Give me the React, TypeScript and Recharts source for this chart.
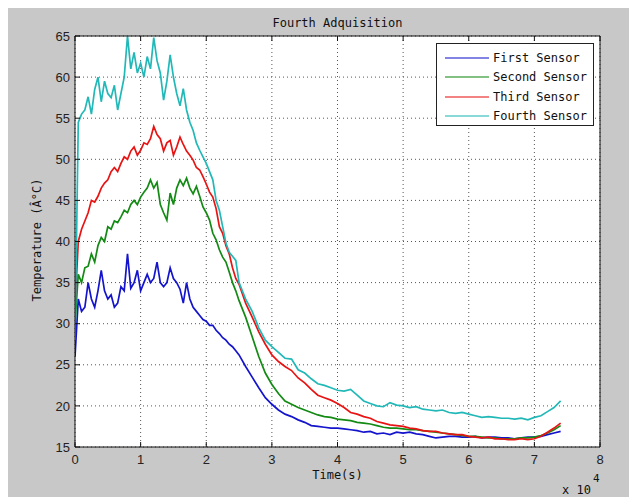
import { CartesianGrid, Legend, Line, LineChart, XAxis, YAxis } from "recharts";

// time in units of 1e4 s
const times = [
  0, 0.05, 0.1, 0.15, 0.2, 0.25, 0.3, 0.35, 0.4, 0.45, 0.5, 0.55, 0.6, 0.65, 0.7, 0.75, 0.8,
  0.85, 0.9, 0.95, 1.0, 1.05, 1.1, 1.15, 1.2, 1.25, 1.3, 1.35, 1.4, 1.45, 1.5, 1.55, 1.6,
  1.65, 1.7, 1.75, 1.8, 1.85, 1.9, 1.95, 2.0, 2.05, 2.1, 2.15, 2.2, 2.25, 2.3, 2.35, 2.4,
  2.45, 2.5, 2.6, 2.7, 2.8, 2.9, 3.0, 3.1, 3.2, 3.3, 3.4, 3.5, 3.6, 3.7, 3.8, 3.9, 4.0,
  4.1, 4.2, 4.3, 4.4, 4.5, 4.6, 4.7, 4.8, 4.9, 5.0, 5.1, 5.2, 5.3, 5.4, 5.5, 5.6, 5.7,
  5.8, 5.9, 6.0, 6.1, 6.2, 6.3, 6.4, 6.5, 6.6, 6.7, 6.8, 6.9, 7.0, 7.1, 7.2, 7.3, 7.4,
];

const firstSensor = [
  26, 33, 31.5, 32, 35, 33, 32, 34, 36.5, 34, 33, 33.5, 32, 32.5, 34.5, 34, 38.5, 34.3, 35,
  36.5, 34, 35, 36, 35, 35.5, 37.5, 35, 34.5, 35, 36.8, 35.5, 35, 34.2, 32.5, 35, 33, 32,
  31.5, 31, 30.5, 30.3, 29.8, 29.8, 29.2, 28.8, 28.3, 28, 27.5, 27.2, 26.7, 26.2,
  24.8, 23.5, 22.2, 21, 20.2, 19.5, 19, 18.7, 18.3, 18, 17.6, 17.5, 17.4, 17.3, 17.3, 17.2,
  17.1, 17.0, 16.8, 16.9, 16.6, 16.7, 16.5, 16.8, 16.7, 16.8, 16.6, 16.5, 16.3, 16.1, 16.2,
  16.3, 16.3, 16.2, 16.2, 16.3, 16.1, 16.2, 16.2, 16.1, 16.1, 16.0, 16.1, 16.2, 16.2, 16.3,
  16.5, 16.7, 16.9,
];

const secondSensor = [
  30, 36, 35, 36.8, 37, 38.5, 37.5, 39.5, 40.5, 40, 41.8, 41.5, 42.5, 42.3, 43, 43.8, 43.5,
  44.5, 45, 44.5, 45.4, 46, 46.5, 47.5, 46.5, 47.2, 44.5, 43.5, 42.6, 45.9, 44.5, 46.5, 47.5,
  46.8, 47.7, 46.5, 45.8, 46.7, 45.5, 44.2, 43.5, 42.6, 41, 40.2, 39, 38.1, 37.5, 36.3, 35,
  34, 32.8,
  30.8, 28.4, 26, 24, 22.6, 21.5, 20.6, 20.2, 19.8, 19.5, 19.2, 18.9, 18.7, 18.6, 18.4, 18.3,
  18.2, 18.0, 17.9, 17.8, 17.6, 17.4, 17.3, 17.3, 17.2, 17.1, 17.1, 17.0, 16.9, 16.8, 16.7,
  16.6, 16.5, 16.4, 16.3, 16.3, 16.2, 16.1, 16.1, 16.0, 16.0, 16.0, 16.1, 16.1, 16.2, 16.4,
  16.7, 17.1, 17.6,
];

const thirdSensor = [
  32, 40, 41.5, 42.5, 43.5, 45, 44.8, 45.5, 46.5, 47.1, 47.5, 48.5, 49, 48.5, 49.5, 50.3, 50,
  51, 51.5, 50.5, 51.1, 52, 51.8, 52.5, 54, 53, 52.5, 51, 52, 52.3, 50.5, 51.5, 52.7, 51.8,
  51, 50.5, 49.9, 49, 48.7, 47.9, 47, 46, 45.4, 44, 41.8, 41, 39.5, 38.5, 36.8, 35.5, 34.8,
  32.5, 30.8, 29, 27.5, 26.2, 25.4, 24.8, 24.3, 23.4, 22.8, 22, 21.3, 21, 20.7, 20.3, 19.8,
  19.2, 19.0, 18.7, 18.5, 18.1, 17.9, 17.7, 17.6, 17.5, 17.3, 17.2, 17.0, 16.9, 16.9, 16.7,
  16.6, 16.5, 16.5, 16.3, 16.2, 16.1, 16.2, 16.0, 16.0, 15.9, 15.9, 16.0, 15.9, 16.0, 16.3,
  16.8, 17.3, 17.9,
];

const fourthSensor = [
  28, 54.5, 55.5, 56, 57.6, 55.5, 58.5, 60, 57, 59.5, 58, 57.5, 59, 56, 58, 60, 65, 61, 63,
  60.5, 61.7, 60, 62.5, 61, 64.8, 62, 60.5, 57.2, 59.5, 62.7, 60, 58, 56.5, 58.6, 56, 54.5,
  53.5, 52, 51.1, 50.3, 49.5, 48.5, 47.5, 45, 43.8, 41.8, 39.8, 38.7, 38.2, 37.7, 35,
  33, 31.5, 29.5, 28, 27.2, 26.5, 25.8, 25.7, 24.4, 24, 23.3, 22.7, 22.5, 22.2, 21.9, 21.8,
  22.0, 21.3, 20.6, 20.3, 20.0, 19.9, 20.4, 20.1, 20.0, 19.8, 19.9, 19.6, 19.5, 19.4, 19.5,
  19.2, 19.1, 19.2, 19.0, 18.8, 18.6, 18.7, 18.6, 18.5, 18.5, 18.4, 18.5, 18.3, 18.6, 18.8,
  19.3, 19.8, 20.6,
];

const xTicks = [0, 1, 2, 3, 4, 5, 6, 7, 8];
const yTicks = [15, 20, 25, 30, 35, 40, 45, 50, 55, 60, 65];

const series = [
  { key: "first", name: "First Sensor", color: "#1414cc", values: firstSensor },
  { key: "second", name: "Second Sensor", color: "#138a13", values: secondSensor },
  { key: "third", name: "Third Sensor", color: "#e81414", values: thirdSensor },
  { key: "fourth", name: "Fourth Sensor", color: "#22b8b8", values: fourthSensor },
];

const data = times.map((t, i) => {
  const row: Record<string, number> = { t };
  series.forEach((s) => {
    row[s.key] = s.values[i];
  });
  return row;
});

const mono = "'DejaVu Sans Mono', monospace";
const tickFont = { fontFamily: "'Liberation Sans', Arial, sans-serif", fontSize: 13, fill: "#222" };
const noLabel = () => "";

// legend keeps the plotting order (recharts sorts payload by name)
function SensorLegend() {
  return (
    <div
      style={{
        background: "#fff",
        border: "1px solid #222",
        width: 156,
        height: 77,
        boxSizing: "content-box",
        paddingTop: 4,
      }}
    >
      {series.map((s) => (
        <div key={s.key} style={{ display: "flex", alignItems: "center", height: 19.5 }}>
          <svg width={56} height={10} style={{ display: "block" }}>
            <line x1={8} y1={5} x2={52} y2={5} stroke={s.color} strokeWidth={1.5} opacity={0.7} />
          </svg>
          <span style={{ fontFamily: mono, fontSize: 12, color: "#111" }}>{s.name}</span>
        </div>
      ))}
    </div>
  );
}

export default function App() {
  return (
    <div style={{ position: "relative", width: 629, height: 489, background: "#c8c8c8" }}>
      <LineChart
        width={629}
        height={489}
        data={data}
        margin={{ top: 27, right: 36, bottom: 0, left: 0 }}
      >
        <CartesianGrid
          fill="#ffffff"
          stroke="#555"
          strokeDasharray="1 3"
          horizontalValues={yTicks}
          verticalValues={xTicks}
        />
        <XAxis
          dataKey="t"
          type="number"
          domain={[0, 8]}
          ticks={xTicks}
          height={50}
          allowDataOverflow
          stroke="#111"
          tickSize={-5}
          tickMargin={13}
          tick={tickFont}
        />
        <XAxis
          xAxisId="top"
          orientation="top"
          dataKey="t"
          type="number"
          domain={[0, 8]}
          ticks={xTicks}
          height={1}
          stroke="#111"
          tickSize={-5}
          tickFormatter={noLabel}
        />
        <YAxis
          type="number"
          domain={[15, 65]}
          ticks={yTicks}
          width={67}
          allowDataOverflow
          stroke="#111"
          tickSize={-5}
          tickMargin={10}
          tick={tickFont}
        />
        <YAxis
          yAxisId="right"
          orientation="right"
          type="number"
          domain={[15, 65]}
          ticks={yTicks}
          width={1}
          stroke="#111"
          tickSize={-5}
          tickFormatter={noLabel}
        />
        <Legend
          layout="vertical"
          align="center"
          verticalAlign="middle"
          content={SensorLegend}
          wrapperStyle={{ top: 35, left: 428, width: 158 }}
        />
        {series.map((s) => (
          <Line
            key={s.key}
            type="linear"
            dataKey={s.key}
            name={s.name}
            stroke={s.color}
            strokeWidth={1.7}
            dot={false}
            isAnimationActive={false}
          />
        ))}
      </LineChart>

      <div
        style={{
          position: "absolute",
          left: 67,
          width: 525,
          top: 8,
          textAlign: "center",
          fontFamily: mono,
          fontSize: 12,
          color: "#111",
        }}
      >
        Fourth Adquisition
      </div>
      <div
        style={{
          position: "absolute",
          left: 67,
          width: 525,
          top: 460,
          textAlign: "center",
          fontFamily: mono,
          fontSize: 12,
          color: "#111",
        }}
      >
        Time(s)
      </div>
      <div
        style={{
          position: "absolute",
          left: 29 - 100,
          top: 233 - 8,
          width: 200,
          textAlign: "center",
          transform: "rotate(-90deg)",
          fontFamily: mono,
          fontSize: 12,
          color: "#111",
        }}
      >
        Temperature (Â°C)
      </div>
      <div
        style={{
          position: "absolute",
          left: 554,
          top: 475,
          fontFamily: mono,
          fontSize: 12,
          color: "#111",
        }}
      >
        x 10
      </div>
      <div
        style={{
          position: "absolute",
          left: 585,
          top: 464,
          fontFamily: mono,
          fontSize: 11,
          color: "#111",
        }}
      >
        4
      </div>
    </div>
  );
}
